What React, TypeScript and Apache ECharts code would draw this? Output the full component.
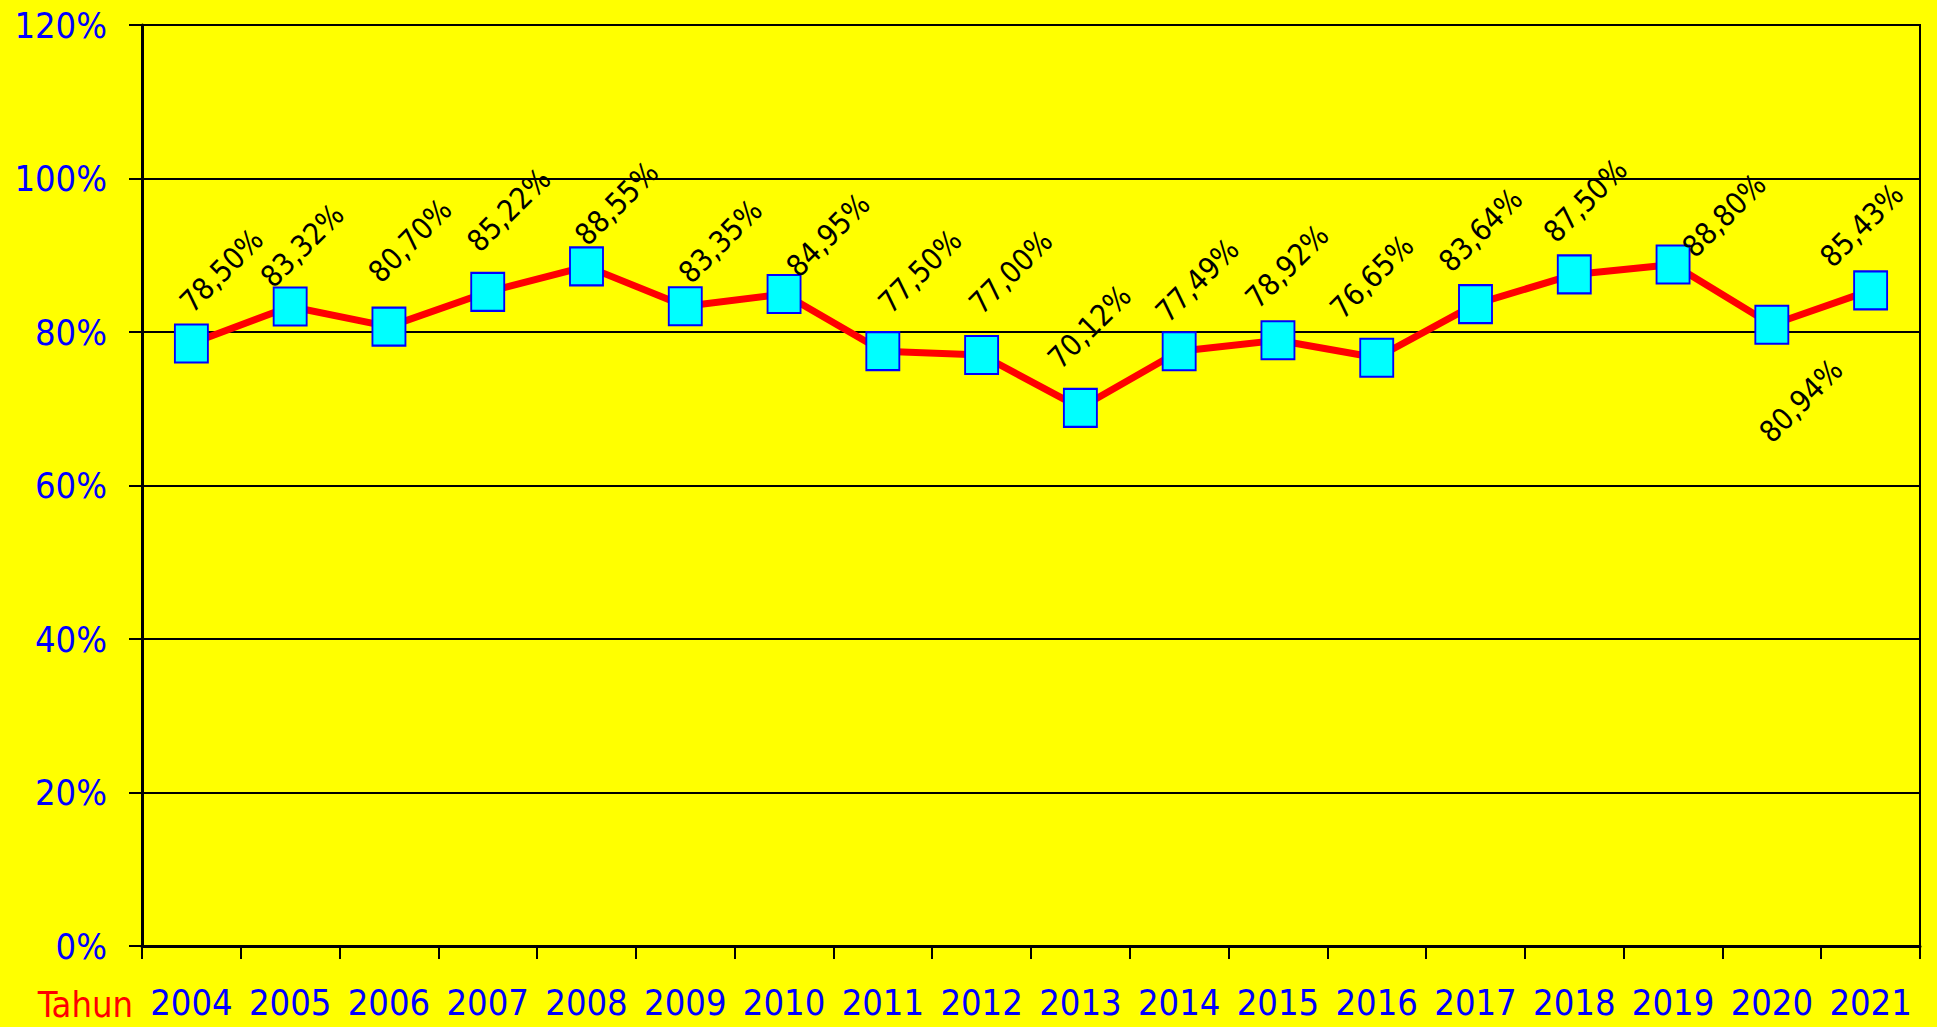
import React, { useEffect, useRef } from "react";
import * as echarts from "echarts";

const YEARS = [
  "2004", "2005", "2006", "2007", "2008", "2009", "2010", "2011", "2012",
  "2013", "2014", "2015", "2016", "2017", "2018", "2019", "2020", "2021",
];
const RATES = [
  78.5, 83.32, 80.7, 85.22, 88.55, 83.35, 84.95, 77.5, 77.0,
  70.12, 77.49, 78.92, 76.65, 83.64, 87.5, 88.8, 80.94, 85.43,
];
const Y_MIN = 0;
const Y_MAX = 120;
const Y_STEP = 20;
const X_TITLE = "Tahun";

// label centre relative to the marker centre, in screen pixels
const LABEL_OFFSETS: [number, number][] = [
  [30, -73], [12, -61], [21, -86], [21, -82], [30, -63], [35, -65],
  [44, -59], [37, -80], [29, -83], [9, -81], [18, -71], [9, -74],
  [-5, -81], [5, -74], [11, -74], [51, -49], [29, 76], [-9, -65],
];

const LABEL_ROTATE = 45;
const FONT = '"DejaVu Sans Condensed", "DejaVu Sans", sans-serif';

// ECharts applies the label offset in the rotated frame: undo the rotation
function toLocal([dx, dy]: [number, number]): [number, number] {
  const t = (LABEL_ROTATE * Math.PI) / 180;
  const c = Math.cos(t);
  const s = Math.sin(t);
  return [dx * c - dy * s, dx * s + dy * c];
}

export default function App() {
  const ref = useRef<HTMLDivElement>(null);
  useEffect(() => {
    const chart = echarts.init(ref.current!, null, { renderer: "svg" });
    chart.setOption({
      animation: false,
      backgroundColor: "#FFFF00",
      grid: {
        left: 142,
        right: 17,
        top: 25,
        bottom: 81,
        show: true,
        borderColor: "#000000",
        borderWidth: 2,
        backgroundColor: "transparent",
      },
      xAxis: {
        type: "category",
        data: YEARS,
        boundaryGap: true,
        axisLine: { show: true, lineStyle: { color: "#000000", width: 3 } },
        axisTick: { show: true, length: 13, lineStyle: { color: "#000000", width: 2 } },
        axisLabel: {
          color: "#0000FF",
          fontFamily: FONT,
          fontSize: 36,
          margin: 38,
          interval: 0,
        },
      },
      yAxis: {
        type: "value",
        min: Y_MIN,
        max: Y_MAX,
        interval: Y_STEP,
        axisLine: { show: true, lineStyle: { color: "#000000", width: 3 } },
        axisTick: { show: true, length: 13, lineStyle: { color: "#000000", width: 2 } },
        axisLabel: {
          color: "#0000FF",
          fontFamily: FONT,
          fontSize: 36,
          margin: 35,
          formatter: "{value}%",
        },
        splitLine: { show: true, lineStyle: { color: "#000000", width: 2 } },
      },
      series: [
        {
          type: "line",
          data: RATES.map((v, i) => ({
            value: v,
            label: { offset: toLocal(LABEL_OFFSETS[i]) },
          })),
          symbol: "rect",
          symbolSize: [33, 38],
          showAllSymbol: true,
          itemStyle: { color: "#00FFFF", borderColor: "#0000FF", borderWidth: 2 },
          lineStyle: { color: "#FF0000", width: 7 },
          label: {
            show: true,
            position: "inside",
            rotate: LABEL_ROTATE,
            align: "center",
            verticalAlign: "middle",
            color: "#000000",
            fontFamily: FONT,
            fontSize: 30,
            formatter: (p: any) => Number(p.value).toFixed(2).replace(".", ",") + "%",
          },
        },
      ],
      graphic: [
        {
          type: "text",
          x: 133,
          y: 1004,
          style: {
            text: X_TITLE,
            fill: "#FF0000",
            fontSize: 36,
            fontFamily: FONT,
            align: "right",
            verticalAlign: "middle",
          },
        },
      ],
    });
    return () => chart.dispose();
  }, []);
  return (
    <div
      ref={ref}
      style={{ position: "fixed", left: 0, top: 0, width: "1937px", height: "1027px" }}
    />
  );
}
